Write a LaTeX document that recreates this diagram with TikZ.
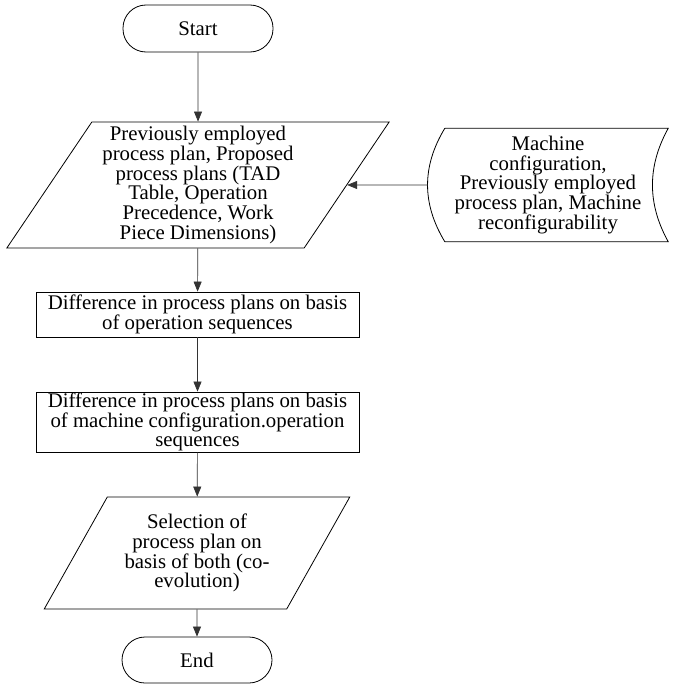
\documentclass[tikz,border=0pt]{standalone}
\usepackage{fontspec}
\setmainfont{Liberation Serif}
\usetikzlibrary{shapes.geometric,arrows.meta}

\begin{document}
\begin{tikzpicture}[x=1pt, y=-1pt,
    font=\fontsize{20.8}{19.8}\selectfont,
    terminal/.style={rectangle, rounded corners=23pt, draw, line width=0.8pt, minimum width=150pt, minimum height=47pt},
    iobox/.style={trapezium, trapezium left angle=57, trapezium right angle=123, trapezium stretches=true, draw, line width=0.8pt, align=center, inner sep=0pt},
    procbox/.style={rectangle, draw, line width=0.8pt, align=center, minimum width=323pt, inner sep=0pt},
    flow/.style={-{Triangle[length=10pt,width=8pt]}, line width=0.7pt, black!80}]
  \useasboundingbox (0,0) rectangle (678,685);

  % Ablauf
  \node [terminal] (start) at (198,28.5) {Start};
  \node [iobox, minimum width=383pt, minimum height=126pt] (plans) at (198,185)
    {Previously employed\\process plan, Proposed\\process plans (TAD\\Table, Operation\\Precedence, Work\\Piece Dimensions)};
  \node [procbox, minimum height=45pt] (seqdiff) at (197.5,314.5)
    {Difference in process plans on basis\\of operation sequences};
  \node [procbox, minimum height=60pt] (cfgdiff) at (197.5,422)
    {Difference in process plans on basis\\of machine configuration.operation\\sequences};
  \node [iobox, minimum width=306pt, minimum height=112pt] (select) at (197,553)
    {Selection of\\process plan on\\basis of both (co-\\evolution)};
  \node [terminal, minimum height=46pt] (end) at (197,660) {End};

  % Gespeicherte Daten
  \node [rectangle, align=center, minimum width=240pt, minimum height=113pt] (machdata) at (548,185)
    {Machine\\configuration,\\Previously employed\\process plan, Machine\\reconfigurability};
  \draw [line width=0.8pt] ([xshift=17pt]machdata.north west) -- (machdata.north east)
    .. controls +(-21pt,-38pt) and +(-21pt,38pt) .. (machdata.south east)
    -- ([xshift=17pt]machdata.south west)
    .. controls +(-23pt,38pt) and +(-23pt,-38pt) .. ([xshift=17pt]machdata.north west);

  % Pfeile
  \draw [flow] (start) -- (plans);
  \draw [flow] (machdata) -- (plans);
  \draw [flow] (plans) -- (seqdiff);
  \draw [flow] (seqdiff) -- (cfgdiff);
  \draw [flow] (cfgdiff) -- (select);
  \draw [flow] (select) -- (end);
\end{tikzpicture}
\end{document}
